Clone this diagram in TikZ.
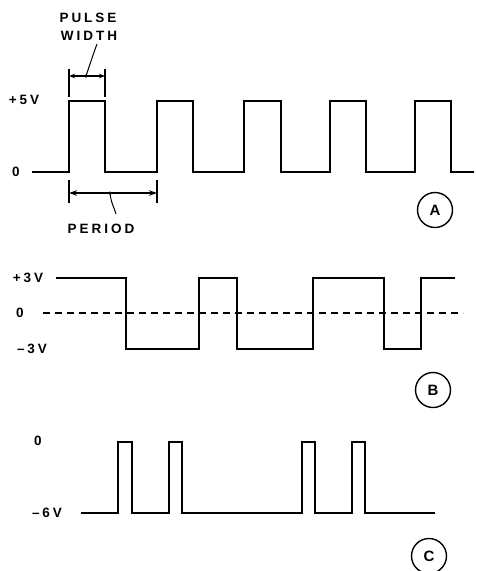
\documentclass[tikz,border=0pt]{standalone}
\usepackage{fontspec}
\newfontfamily\lblfont{Liberation Sans Bold}[LetterSpace=22]
\newfontfamily\tagfont{Liberation Sans Bold}
\usetikzlibrary{arrows.meta}
\begin{document}
\begin{tikzpicture}[x=1pt,y=-1pt,
  lbl/.style={font=\lblfont\fontsize{13.5}{14}\selectfont, inner sep=0pt},
  wave/.style={line width=1.4pt, line join=miter},
  dim/.style={line width=1.2pt},
  tag/.style={circle, draw, line width=1.4pt, minimum size=35pt, inner sep=0pt, font=\tagfont\fontsize{15}{16}\selectfont},
  dot/.style={circle, fill, inner sep=0pt, minimum size=3.5pt}]
\useasboundingbox (0,0) rectangle (477,571);

% ---------- A ----------
\node[lbl] (pulse) at (88,18) {PULSE};
\node[lbl] (width) at (89,36) {WIDTH};
\node[lbl] (p5) at (24,100) {+5V};
\node[lbl] (z0a) at (16,172) {0};
\node[lbl] (period) at (101,229) {PERIOD};

\draw[wave] (32,172) -- (69,172) |- (105,101) |- (157,172) |- (193,101) |- (244,172) |- (281,101) |- (330,172) |- (366,101) |- (415,172) |- (451,101) |- (474,172);

% pulse width dimension
\coordinate (pwLt) at (69,69); \coordinate (pwLb) at (69,97);
\coordinate (pwRt) at (105,69); \coordinate (pwRb) at (105,97);
\coordinate (pwL) at (69,76); \coordinate (pwR) at (105,76);
\node[dot] (pwc) at (86,76) {};
\draw[dim] (pwLt) -- (pwLb);
\draw[dim] (pwRt) -- (pwRb);
\draw[dim,-{Stealth[length=6pt,width=4.5pt]}] (pwc.center) -- (pwL);
\draw[dim,-{Stealth[length=6pt,width=4.5pt]}] (pwc.center) -- (pwR);
\coordinate (pwEnd) at (97,44);
\draw[line width=1pt] (pwc.center) .. controls (90,64) and (94,52) .. (pwEnd);

% period dimension
\coordinate (peLt) at (69,180); \coordinate (peLb) at (69,203);
\coordinate (peRt) at (157,180); \coordinate (peRb) at (157,203);
\coordinate (peL) at (69,193); \coordinate (peR) at (157,193);
\node[dot] (pec) at (110,193) {};
\draw[dim] (peLt) -- (peLb);
\draw[dim] (peRt) -- (peRb);
\draw[dim,-{Stealth[length=8pt,width=5.5pt]}] (pec.center) -- (peL);
\draw[dim,-{Stealth[length=8pt,width=5.5pt]}] (pec.center) -- (peR);
\coordinate (peEnd) at (116,214);
\draw[line width=1pt] (pec.center) .. controls (111,203) and (114,207) .. (peEnd);

\node[tag] (tA) at (435,210) {A};

% ---------- B ----------
\node[lbl] (p3) at (28,278) {+3V};
\node[lbl] (z0b) at (20,313) {0};
\node[lbl] (m3) at (32,349) {–3V};
\draw[line width=1.1pt, dash pattern=on 7pt off 5pt] (43,313) -- (463,313);
\draw[wave] (56,278) -- (126,278) |- (199,349) |- (237,278) |- (313,349) |- (384,278) |- (421,349) |- (455,278);
\node[tag] (tB) at (433,390) {B};

% ---------- C ----------
\node[lbl] (z0c) at (38,441) {0};
\node[lbl] (m6) at (47,513) {–6V};
\draw[wave] (81,513) -- (118,513) |- (132,442) |- (169,513) |- (182,442) |- (302,513) |- (315,442) |- (352,513) |- (365,442) |- (435,513);
\node[tag] (tC) at (429,556) {C};
\end{tikzpicture}
\end{document}
